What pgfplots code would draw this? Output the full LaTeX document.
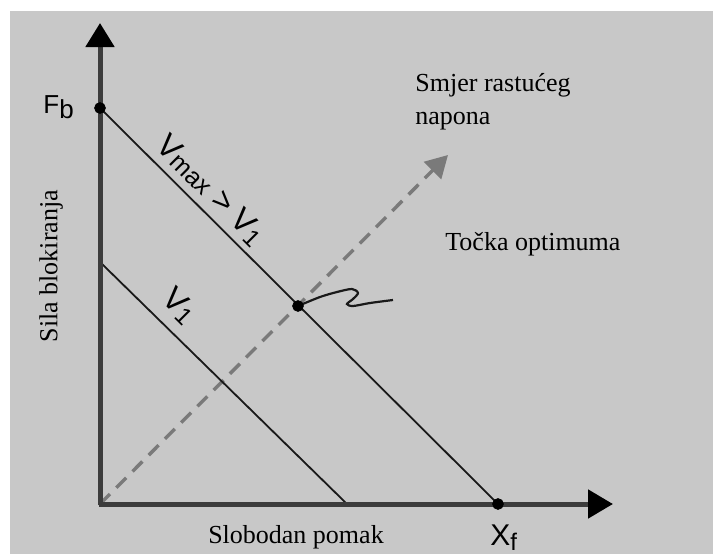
\documentclass[border=0pt]{standalone}
\usepackage{fontspec}
\setmainfont{Liberation Serif}
\newfontfamily\arial{Liberation Sans}
\usepackage{pgfplots}
\pgfplotsset{compat=1.18}
\usetikzlibrary{arrows.meta}

\definecolor{bg}{RGB}{200,200,200}
\definecolor{axisgray}{RGB}{60,60,60}
\definecolor{dashgray}{RGB}{122,122,122}
\definecolor{ink}{RGB}{25,25,25}

% one data unit = one pixel of the 713x554 picture, origin at the axes' corner
\begin{document}
\begin{tikzpicture}
\begin{axis}[
    width=356.5pt, height=277pt, scale only axis,
    xmin=-100, xmax=613, ymin=-50, ymax=504,
    hide axis, clip=false,
]
\fill[white] (axis cs:-100,-50) rectangle (axis cs:613,504);
\fill[bg] (axis cs:-90,-50) rectangle (axis cs:613,493);

% direction of rising voltage
\addplot[dashgray, line width=1.7pt, dash pattern=on 7pt off 4.5pt, mark=none,
    -{Triangle[width=12pt,length=11pt]}]
    coordinates {(0,0) (348,349)};

% force-displacement lines
\addplot[ink, line width=0.9pt, mark=none] coordinates {(0,242) (247,0)};
\addplot[ink, line width=0.9pt, mark=none] coordinates {(0,396) (398,0)};

% pointer to the optimum
\addplot[ink, line width=1.1pt, mark=none, smooth, tension=0.5] coordinates {
    (198,198) (220,207) (237,212) (252,215) (258,211) (253,205)
    (247,200) (253,198) (270,201) (293,204)
};

% axes
\addplot[axisgray, line width=2.5pt, mark=none,
    -{Triangle[width=14pt,length=12pt,color=black]}]
    coordinates {(0,-1.2) (0,481)};
\addplot[axisgray, line width=2.5pt, mark=none,
    -{Triangle[width=14pt,length=12.5pt,color=black]}]
    coordinates {(-1.2,0) (513,0)};

% marked points
\addplot[only marks, mark=*, mark size=2.7pt, black] coordinates {
    (0,396) (398,0) (198,198)
};

% labels
\node[anchor=base west, inner sep=0pt, font=\arial\fontsize{13}{13}\selectfont]
    at (axis cs:-57,391) {F\raisebox{-2.5pt}{b}};
\node[anchor=base west, inner sep=0pt, font=\arial\fontsize{15}{15}\selectfont]
    at (axis cs:390,-41) {X\raisebox{-2.5pt}{\fontsize{12}{12}\selectfont f}};
\node[anchor=base, inner sep=0pt, rotate=-45, font=\arial\fontsize{16}{16}\selectfont]
    at (axis cs:104,307)
    {V\raisebox{-0.5pt}{\fontsize{12.5}{12.5}\selectfont max} > V\raisebox{-1.5pt}{\fontsize{12}{12}\selectfont 1}};
\node[anchor=base, inner sep=0pt, rotate=-45, font=\arial\fontsize{16}{16}\selectfont]
    at (axis cs:73,191)
    {V\raisebox{-1.5pt}{\fontsize{12}{12}\selectfont 1}};

\node[rotate=90, inner sep=0pt, font=\fontsize{13}{13}\selectfont]
    at (axis cs:-49,238) {Sila blokiranja};
\node[anchor=base, inner sep=0pt, font=\fontsize{13}{13}\selectfont]
    at (axis cs:196,-39) {Slobodan pomak};
\node[anchor=base west, inner sep=0pt, align=left, font=\fontsize{13}{16.5}\selectfont]
    at (axis cs:315,380) {Smjer rastućeg\\napona};
\node[anchor=base west, inner sep=0pt, font=\fontsize{13}{13}\selectfont]
    at (axis cs:345,254) {Točka optimuma};
\end{axis}
\end{tikzpicture}
\end{document}
